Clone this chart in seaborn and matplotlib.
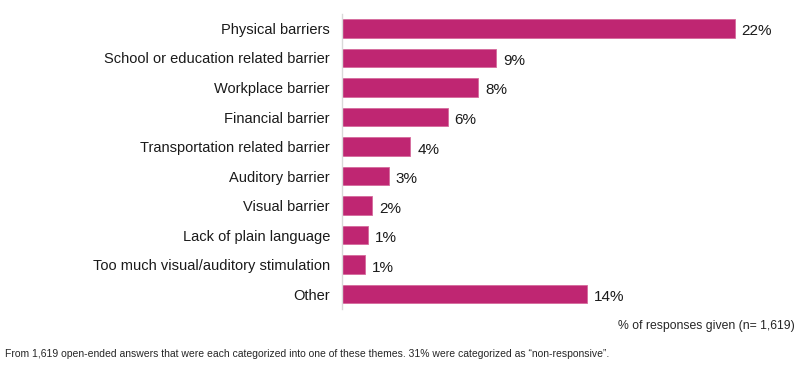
import pandas as pd
import matplotlib.pyplot as plt
import seaborn as sns

# 数据
categories = ['Physical barriers', 'School or education related barrier', 'Workplace barrier',
              'Financial barrier', 'Transportation related barrier', 'Auditory barrier',
              'Visual barrier', 'Lack of plain language', 'Too much visual/auditory stimulation',
              'Other']
values = [22.0, 8.6, 7.6, 5.9, 3.8, 2.6, 1.65, 1.44, 1.27, 13.7]
value_labels = ['22%', '9%', '8%', '6%', '4%', '3%', '2%', '1%', '1%', '14%']

data = pd.DataFrame({'category': categories, 'value': values})

sns.set_style('white')
plt.rcParams['font.family'] = ['Liberation Sans', 'DejaVu Sans']

fig = plt.figure(figsize=(8, 3.7), dpi=100)
ax = fig.add_axes([0.428, 0.165, 0.557, 0.798])

sns.barplot(x='value', y='category', data=data, orient='h', color='#BF2672',
            width=0.63, edgecolor='#D56A9C', linewidth=0.6, ax=ax, saturation=1)

# 数值标签
for i, (v, lab) in enumerate(zip(values, value_labels)):
    ax.text(v + 0.4, i + 0.05, lab, va='center_baseline', ha='left', fontsize=11,
            color='#1a1a1a')

ax.set_xlim(0, 25)
ax.set_ylim(9.5, -0.5)
ax.set_xlabel('')
ax.set_ylabel('')
ax.set_xticks([])
ax.tick_params(axis='y', length=0, pad=9, labelsize=10.5, labelcolor='#1a1a1a')
for lab in ax.get_yticklabels():
    lab.set_verticalalignment('center_baseline')
for s in ['top', 'right', 'bottom']:
    ax.spines[s].set_visible(False)
ax.spines['left'].set_color('#d9d9d9')
ax.spines['left'].set_linewidth(1)

fig.text(0.994, 0.118, '% of responses given (n= 1,619)', ha='right', va='center',
         fontsize=8.8, family=['Liberation Sans Narrow', 'Liberation Sans', 'DejaVu Sans'])
fig.text(0.006, 0.043,
         'From 1,619 open-ended answers that were each categorized into one of these themes. '
         '31% were categorized as \u201cnon-responsive\u201d.',
         ha='left', va='center', fontsize=7.5,
         family=['Liberation Sans Narrow', 'Liberation Sans', 'DejaVu Sans'])

plt.savefig('out.png', dpi=100)
